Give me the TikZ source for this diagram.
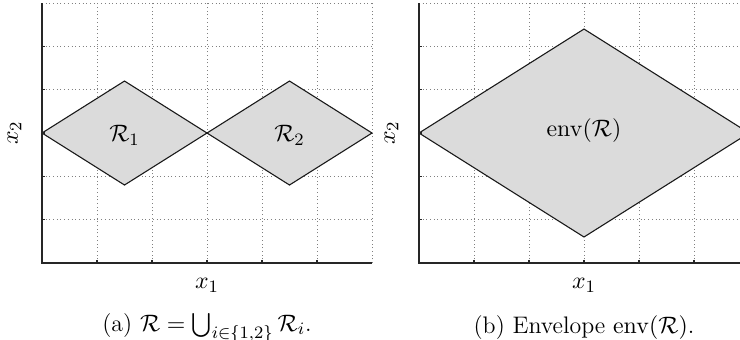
\documentclass[tikz,border=0pt]{standalone}
\usepackage{amsmath,amssymb}
\usepackage{xcolor}
\usepackage{tikz}
\usetikzlibrary{positioning,calc}

\begin{document}
\begin{tikzpicture}[
    x=25.3pt,
    y=19.93pt,
    every node/.style = {font=\fontsize{11pt}{13pt}\selectfont},
    caption/.style = {inner sep=1pt},
    grid_line/.style = {
        draw=black!50,
        line width=0.4pt,
        dash pattern=on 0.45pt off 1.25pt
    },
    axis_line/.style = {
        draw=black!85,
        line width=0.65pt
    },
    region/.style = {
        draw=black!90,
        line width=0.5pt,
        fill=black!14,
        line join=miter
    },
    tick_mark/.style = {
        draw=black!85,
        line width=0.5pt
    }
]

    % Fixed page size
    \useasboundingbox (-19.32pt,-34.96pt) rectangle ++(340.4pt,155.94pt);

    % Panel (a)
    \begin{scope}
        \foreach \i in {1,...,6} {
            \draw [grid_line] (\i,0) -- (\i,6);
            \draw [grid_line] (0,\i) -- (6,\i);
        }
        \draw [region] (0,3) -- (1.5,4.2) -- (3,3) -- (1.5,1.8) -- cycle;
        \draw [region] (3,3) -- (4.5,4.2) -- (6,3) -- (4.5,1.8) -- cycle;
        \foreach \i in {1,...,5} {
            \draw [tick_mark] (\i,0) -- ++(0,1.3pt);
            \draw [tick_mark] (0,\i) -- ++(1.3pt,0);
        }
        \draw [axis_line] (0,6) -- (0,0) -- (6,0);

        \node (r_one) at (1.5,2.95) {$\mathcal{R}_1$};
        \node (r_two) at (4.5,2.95) {$\mathcal{R}_2$};
        \node [inner sep=1pt] (xa_one) at (3,-0.52) {$x_1$};
        \node [rotate=90] (xa_two) at (-0.5,3) {$x_2$};
        \node [caption] (cap_a) at (3,-1.5) {(a) $\mathcal{R} = \bigcup_{i\in\{1,2\}} \mathcal{R}_i$.};
    \end{scope}

    % Panel (b)
    \begin{scope}[xshift=173.42pt]
        \foreach \i in {1,...,6} {
            \draw [grid_line] (\i,0) -- (\i,6);
            \draw [grid_line] (0,\i) -- (6,\i);
        }
        \draw [region] (0,3) -- (3,5.4) -- (6,3) -- (3,0.6) -- cycle;
        \foreach \i in {1,...,5} {
            \draw [tick_mark] (\i,0) -- ++(0,1.3pt);
            \draw [tick_mark] (0,\i) -- ++(1.3pt,0);
        }
        \draw [axis_line] (0,6) -- (0,0) -- (6,0);

        \node (env_r) at (3,3.05) {$\operatorname{env}(\mathcal{R})$};
        \node [inner sep=1pt] (xb_one) at (3,-0.52) {$x_1$};
        \node [rotate=90] (xb_two) at (-0.5,3) {$x_2$};
        \node [caption] (cap_b) at (3,-1.5) {(b) Envelope $\operatorname{env}(\mathcal{R})$.};
    \end{scope}

\end{tikzpicture}
\end{document}
